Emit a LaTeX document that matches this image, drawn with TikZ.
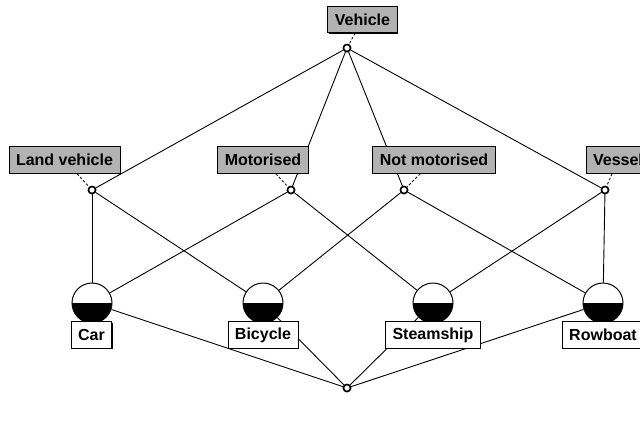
\documentclass[tikz,border=0pt]{standalone}
\usepackage{fontspec}
\setmainfont{Liberation Sans}
\usetikzlibrary{shadows}
\begin{document}
\begin{tikzpicture}[x=1pt,y=-1pt,
  edge/.style={line width=0.9pt},
  tie/.style={dashed,line width=0.8pt,dash pattern=on 2.5pt off 2pt},
  concept/.style={circle,draw,line width=1.5pt,fill=white,inner sep=0pt,minimum size=7pt},
  object/.style={circle,draw,line width=1pt,fill=white,inner sep=0pt,minimum size=40pt,
    path picture={\fill[black] (path picture bounding box.west) rectangle (path picture bounding box.south east);}},
  labelbox/.style={draw,line width=0.9pt,font=\bfseries\fontsize{16}{18}\selectfont,
    minimum height=26.5pt,inner xsep=7pt,inner ysep=0pt,
    general shadow={fill=black,shadow xshift=1pt,shadow yshift=-1pt}},
  attr/.style={labelbox,fill=black!30},
  obj/.style={labelbox,fill=white}]
\useasboundingbox (0,0) rectangle (640,421);

% lattice points
\node[concept] (top) at (347,48) {};
\node[concept] (land) at (92,190) {};
\node[concept] (motor) at (291,190) {};
\node[concept] (nomotor) at (404,190) {};
\node[concept] (vessel) at (605,190) {};
\node[concept] (bottom) at (347,388) {};
\node[object] (car) at (92,303) {};
\node[object] (bicycle) at (263,303) {};
\node[object] (steamship) at (433,303) {};
\node[object] (rowboat) at (603,303) {};

% covering relation
\draw[edge] (top) -- (land);
\draw[edge] (top) -- (motor);
\draw[edge] (top) -- (nomotor);
\draw[edge] (top) -- (vessel);
\draw[edge] (land) -- (car);
\draw[edge] (land) -- (bicycle);
\draw[edge] (motor) -- (car);
\draw[edge] (motor) -- (steamship);
\draw[edge] (nomotor) -- (bicycle);
\draw[edge] (nomotor) -- (rowboat);
\draw[edge] (vessel) -- (steamship);
\draw[edge] (vessel) -- (rowboat);
\draw[edge] (car) -- (bottom);
\draw[edge] (bicycle) -- (bottom);
\draw[edge] (steamship) -- (bottom);
\draw[edge] (rowboat) -- (bottom);

% redraw points above the edges
\node[concept] at (top) {};
\node[concept] at (land) {};
\node[concept] at (motor) {};
\node[concept] at (nomotor) {};
\node[concept] at (vessel) {};
\node[concept] at (bottom) {};

% attribute labels
\node[attr] (lVehicle) at (362.5,19.5) {Vehicle};
\node[attr] (lLand) at (64.5,160) {Land vehicle};
\node[attr] (lMotor) at (263,160) {Motorised};
\node[attr] (lNoMotor) at (434,160) {Not motorised};
\node[attr] (lVessel) at (618,160) {Vessel};
\draw[tie] (lVehicle) -- (top);
\draw[tie] (lLand) -- (land);
\draw[tie] (lMotor) -- (motor);
\draw[tie] (lNoMotor) -- (nomotor);
\draw[tie] (lVessel) -- (vessel);

% object labels
\node[obj] (lCar) at (91.5,335) {Car};
\node[obj] (lBicycle) at (263,335) {Bicycle};
\node[obj] (lSteamship) at (433,335) {Steamship};
\node[obj] (lRowboat) at (603,335) {Rowboat};
\end{tikzpicture}
\end{document}
